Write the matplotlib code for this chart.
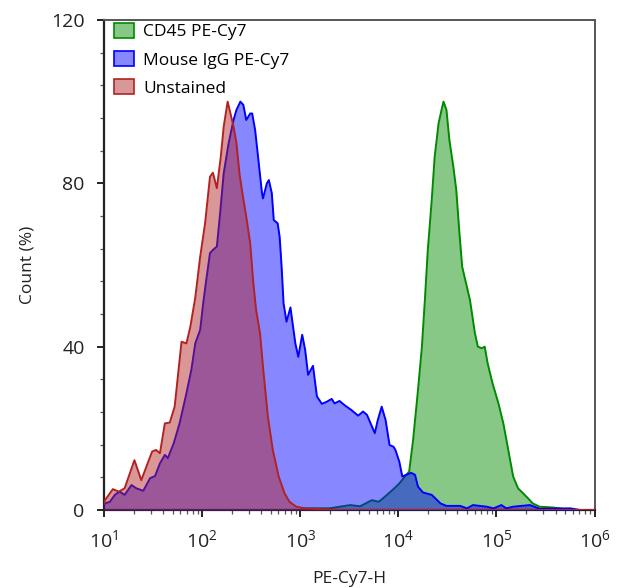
import matplotlib
matplotlib.use("Agg")
import matplotlib.pyplot as plt
import numpy as np
from matplotlib.colors import to_rgba
from matplotlib.patches import Patch
from matplotlib.ticker import FixedLocator, LogLocator, NullFormatter

plt.rcParams["font.family"] = ["Open Sans", "DejaVu Sans"]
plt.rcParams["mathtext.default"] = "regular"

# histogram traces: log10(PE-Cy7-H) vs count (% of mode)
cd45_log = [1.00, 3.00, 3.05, 3.30, 3.51, 3.61, 3.73, 3.80, 3.87, 3.95, 4.01, 4.08, 4.11,
            4.15, 4.20, 4.24, 4.27, 4.30, 4.34, 4.37, 4.41, 4.44, 4.46, 4.49, 4.52, 4.56,
            4.59, 4.62, 4.65, 4.69, 4.73, 4.78, 4.81, 4.85, 4.88, 4.91, 4.96, 5.02, 5.07,
            5.12, 5.17, 5.22, 5.27, 5.32, 5.37, 5.44, 5.58, 5.70, 5.80, 6.00]
cd45_pct = [0.0, 0.0, 0.4, 0.4, 1.2, 0.9, 2.4, 2.0, 3.4, 5.1, 6.5, 8.6, 9.4,
            17.1, 29.4, 40.0, 51.4, 63.7, 75.9, 86.5, 94.7, 98.0, 100.0, 98.0, 90.6, 84.1,
            78.4, 68.6, 59.6, 55.5, 51.4, 43.3, 40.0, 39.6, 40.0, 35.9, 31.0, 26.1, 21.2,
            14.7, 8.2, 5.3, 4.1, 2.9, 1.6, 0.8, 0.6, 0.2, 0.0, 0.0]

igg_log = [1.00, 1.01, 1.06, 1.11, 1.16, 1.21, 1.28, 1.33, 1.40, 1.47, 1.52, 1.57, 1.62,
           1.65, 1.71, 1.77, 1.84, 1.89, 1.93, 1.98, 2.01, 2.04, 2.08, 2.11, 2.15, 2.18,
           2.22, 2.27, 2.32, 2.35, 2.39, 2.42, 2.45, 2.49, 2.51, 2.54, 2.57, 2.61, 2.62,
           2.66, 2.68, 2.71, 2.73, 2.77, 2.79, 2.81, 2.83, 2.86, 2.90, 2.95, 2.98, 3.02,
           3.05, 3.08, 3.13, 3.17, 3.22, 3.27, 3.32, 3.35, 3.40, 3.45, 3.52, 3.59, 3.64,
           3.68, 3.76, 3.79, 3.83, 3.87, 3.91, 3.95, 3.97, 4.01, 4.04, 4.08, 4.13, 4.17,
           4.20, 4.25, 4.34, 4.43, 4.49, 4.63, 4.70, 4.76, 4.90, 4.97, 5.05, 5.10, 5.17,
           5.34, 5.44, 5.75, 5.85, 6.00]
igg_pct = [1.2, 1.6, 2.0, 3.7, 4.5, 3.7, 6.1, 5.3, 4.7, 7.8, 8.3, 11.4, 13.5,
           12.7, 16.3, 21.2, 28.6, 34.3, 40.8, 44.1, 50.5, 56.0, 62.9, 63.7, 64.5, 71.8,
           82.5, 89.8, 95.5, 98.0, 100.0, 99.2, 95.5, 97.1, 97.1, 93.1, 86.5, 77.6, 76.3,
           80.0, 80.8, 77.6, 71.0, 70.2, 66.9, 59.6, 50.6, 46.1, 49.6, 40.8, 37.5, 42.9,
           39.2, 33.1, 35.3, 27.8, 26.0, 26.5, 27.2, 26.1, 26.7, 25.7, 24.5, 23.1, 24.1,
           23.3, 18.8, 22.0, 25.3, 22.0, 15.9, 15.5, 14.7, 11.8, 8.2, 8.6, 9.1, 8.6,
           5.7, 4.3, 3.7, 1.6, 1.0, 1.0, 0.4, 1.2, 0.8, 0.4, 1.2, 0.4, 0.8,
           1.2, 0.3, 0.4, 0.0, 0.0]

unst_log = [1.00, 1.01, 1.09, 1.15, 1.21, 1.31, 1.38, 1.49, 1.53, 1.57, 1.62, 1.67, 1.72,
            1.79, 1.84, 1.88, 1.93, 1.98, 2.03, 2.08, 2.11, 2.15, 2.19, 2.22, 2.26, 2.28,
            2.32, 2.35, 2.38, 2.41, 2.45, 2.49, 2.52, 2.55, 2.59, 2.62, 2.67, 2.72, 2.78,
            2.84, 2.89, 2.96, 3.05, 3.20, 3.40, 6.00]
unst_pct = [1.5, 2.4, 5.1, 4.5, 5.3, 12.2, 7.3, 14.3, 14.7, 13.9, 21.2, 21.4, 25.3,
            41.2, 40.8, 44.9, 52.0, 62.0, 70.2, 81.6, 82.6, 78.8, 86.5, 93.9, 100.0, 98.0,
            93.9, 89.8, 82.5, 77.6, 71.8, 65.3, 56.0, 49.0, 43.3, 35.1, 22.9, 14.7, 8.2,
            4.1, 2.0, 0.8, 0.4, 0.2, 0.0, 0.0]

series = [
    ("CD45 PE-Cy7", cd45_log, cd45_pct, "#008a00"),
    ("Mouse IgG PE-Cy7", igg_log, igg_pct, "#0000ff"),
    ("Unstained", unst_log, unst_pct, "#b22222"),
]
FILL_ALPHA = 0.47

fig = plt.figure(figsize=(6.21, 5.88), dpi=100)
ax = fig.add_axes([0.1675, 0.1327, 0.79, 0.8333])

handles = []
for i, (name, lg, pct, col) in enumerate(series):
    x = 10 ** np.array(lg)
    y = np.array(pct)
    ax.fill_between(x, 0, y, color=col, alpha=FILL_ALPHA, linewidth=0, zorder=2 + i)
    ax.plot(x, y, color=col, linewidth=1.4, zorder=2 + i)
    handles.append(Patch(facecolor=to_rgba(col, FILL_ALPHA), edgecolor=col,
                         linewidth=1.2, label=name))

ax.set_xscale("log")
ax.set_xlim(10, 1e6)
ax.set_ylim(0, 120)
ax.xaxis.set_major_locator(LogLocator(base=10, numticks=10))
ax.xaxis.set_minor_locator(LogLocator(base=10, subs=np.arange(2, 10), numticks=20))
ax.xaxis.set_minor_formatter(NullFormatter())
ax.yaxis.set_major_locator(FixedLocator([0, 40, 80, 120]))
ax.yaxis.set_minor_locator(FixedLocator(np.arange(0, 121, 8)))

for side in ("left", "bottom"):
    ax.spines[side].set_color("#222222")
    ax.spines[side].set_linewidth(1.6)
for side in ("top", "right"):
    ax.spines[side].set_color("#555555")
    ax.spines[side].set_linewidth(1.4)

ax.tick_params(axis="both", which="major", direction="out", length=5, width=1.4,
               color="#222222", labelsize=14, pad=9, labelcolor="#222222")
ax.tick_params(axis="both", which="minor", direction="out", length=3, width=0.9,
               color="#555555")

ax.set_xlabel("PE-Cy7-H", fontsize=12.5, color="#222222", labelpad=14)
ax.set_ylabel("Count (%)", fontsize=12.5, color="#222222", labelpad=11)

ax.legend(handles=handles, loc="upper left", frameon=False, fontsize=12.5,
          handlelength=1.15, handleheight=0.95, handletextpad=0.55,
          labelspacing=0.62, borderaxespad=0.0, bbox_to_anchor=(0.006, 1.008))

fig.savefig("out.png", dpi=100)
